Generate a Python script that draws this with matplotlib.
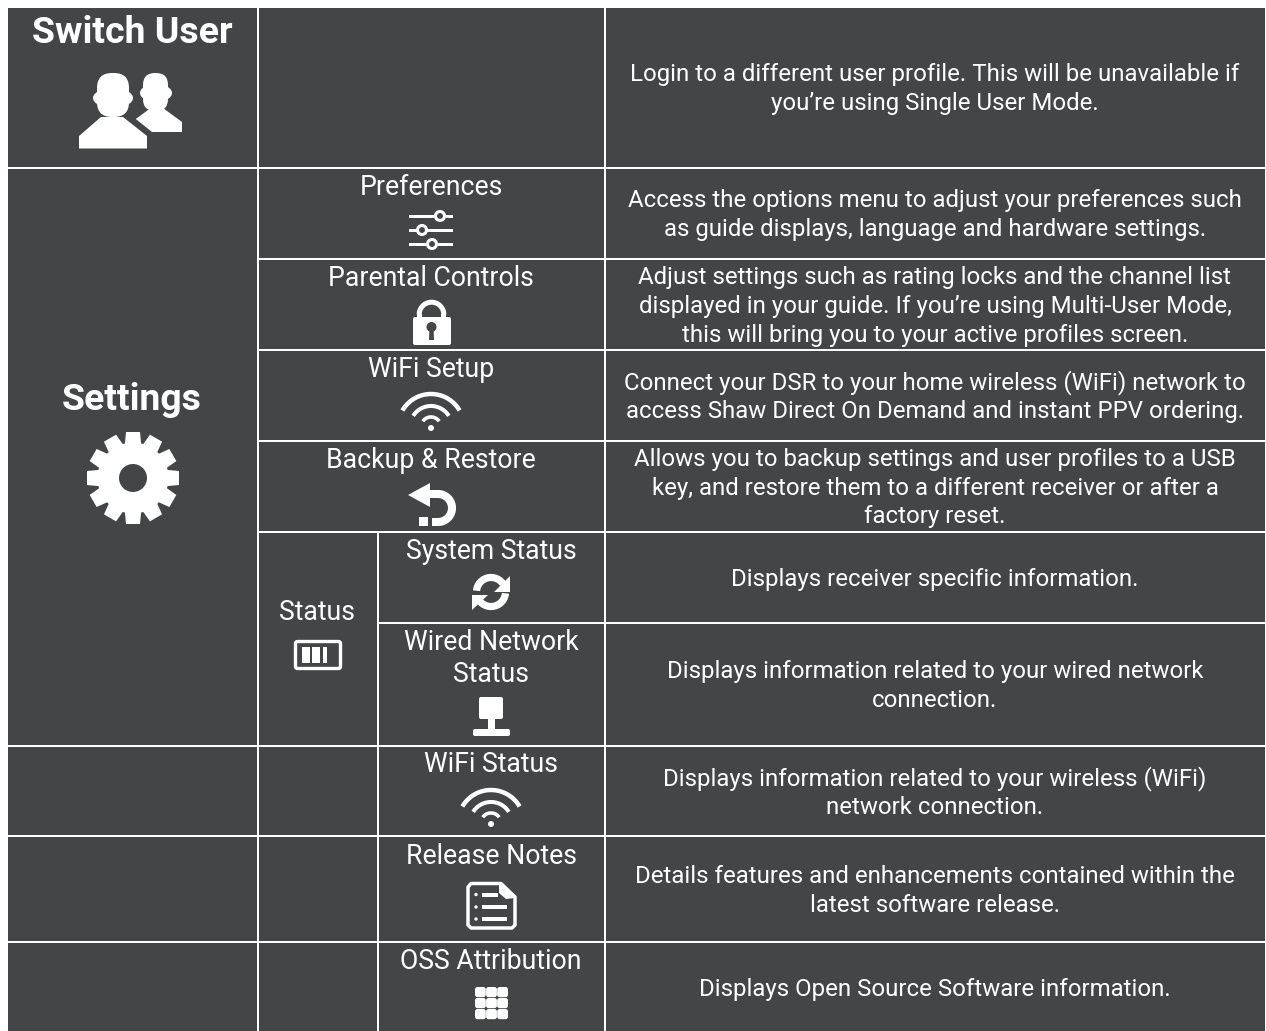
import numpy as np
import matplotlib
matplotlib.use("Agg")
import matplotlib.pyplot as plt
from matplotlib.patches import Rectangle, Ellipse, Polygon, Circle, FancyBboxPatch

BG = "#444547"
WHITE = "#ffffff"

# table rules: (position, start, end)
h_rules = [(168, 8, 1265), (259, 258, 1265), (350, 258, 1265), (441, 258, 1265), (532, 258, 1265),
           (623, 378, 1265), (745.5, 8, 1265), (836, 8, 1265), (941.5, 8, 1265)]
v_rules = [(258, 8, 1031), (605, 8, 1031), (378, 532, 1031)]

# bold section names
section_names = ["Switch User", "Settings"]
section_pos = [(132, 30), (132, 397)]

# menu items
item_names = ["Preferences", "Parental Controls", "WiFi Setup", "Backup & Restore", "Status", "System Status",
              "Wired Network", "Status", "WiFi Status", "Release Notes", "OSS Attribution"]
item_pos = [(431, 185), (431, 276), (431, 367), (431, 458), (317, 610), (491, 549),
            (491, 640), (491, 672), (491, 762), (491, 854), (491, 959)]

# descriptions, one entry per line of text
desc_lines = ["Login to a different user profile. This will be unavailable if",
              "you\u2019re using Single User Mode.",
              "Access the options menu to adjust your preferences such",
              "as guide displays, language and hardware settings.",
              "Adjust settings such as rating locks and the channel list",
              "displayed in your guide. If you\u2019re using Multi-User Mode,",
              "this will bring you to your active profiles screen.",
              "Connect your DSR to your home wireless (WiFi) network to",
              "access Shaw Direct On Demand and instant PPV ordering.",
              "Allows you to backup settings and user profiles to a USB",
              "key, and restore them to a different receiver or after a",
              "factory reset.",
              "Displays receiver specific information.",
              "Displays information related to your wired network",
              "connection.",
              "Displays information related to your wireless (WiFi)",
              "network connection.",
              "Details features and enhancements contained within the",
              "latest software release.",
              "Displays Open Source Software information."]
desc_y = [73, 102, 199, 228, 276, 305, 334, 381, 410, 458, 487, 515, 578, 670, 699, 777, 806, 875, 904, 988]

plt.rcParams["font.family"] = ["Roboto", "DejaVu Sans"]

fig = plt.figure(figsize=(12.66, 10.31), dpi=100)
ax = fig.add_axes([0, 0, 1, 1])
ax.set_xlim(0, 1266)
ax.set_ylim(1031, 0)
ax.axis("off")

ax.add_patch(Rectangle((8, 8), 1257, 1023, fc=BG, ec="none"))
for y, x0, x1 in h_rules:
    ax.add_patch(Rectangle((x0, y - 1), x1 - x0, 2, fc=WHITE, ec="none"))
for x, y0, y1 in v_rules:
    ax.add_patch(Rectangle((x - 1, y0), 2, y1 - y0, fc=WHITE, ec="none"))

for name, (x, y) in zip(section_names, section_pos):
    ax.text(x, y + 12.6, name, color=WHITE, fontsize=26.9, fontweight="bold", ha="center", va="baseline")
for name, (x, y) in zip(item_names, item_pos):
    ax.text(x, y + 9.6, name, color=WHITE, fontsize=19.15, ha="center", va="baseline")
for line, y in zip(desc_lines, desc_y):
    ax.text(935, y + 8, line, color=WHITE, fontsize=17.25, ha="center", va="baseline")


def poly(pts, fc=WHITE):
    ax.add_patch(Polygon(pts, closed=True, fc=fc, ec="none"))


def rbox(x, y, w, h, r, fc=WHITE, ec="none", lw=0):
    ax.add_patch(FancyBboxPatch((x + r, y + r), w - 2 * r, h - 2 * r, boxstyle="round,pad=%g,rounding_size=%g" % (r, r),
                                fc=fc, ec=ec, lw=lw))


def arc(cx, cy, r, a0, a1, lw, cap="butt"):
    # angles measured clockwise on screen, 0 = right
    t = np.radians(np.linspace(a0, a1, 60))
    ax.plot(cx + r * np.cos(t), cy + r * np.sin(t), color=WHITE, lw=lw, solid_capstyle=cap)


def wifi(cx, cy):
    arc(cx, cy - 1, 33, 210, 330, 3.2)
    arc(cx, cy - 1, 21, 212, 328, 2.9)
    arc(cx, cy - 1, 10, 215, 325, 2.6)
    ax.add_patch(Circle((cx, cy), 3, fc=WHITE, ec="none"))


# users, small one first
rbox(143, 73, 25, 38, 12)
ax.add_patch(Ellipse((156, 93), 32, 18, fc=WHITE, ec="none"))
poly([(133, 121), (148, 110), (163, 108), (182, 122), (182, 132), (150, 132)])
poly([(74, 150), (74, 134), (99, 114), (90, 90), (100, 70), (127, 70), (136, 90), (127, 112), (152, 132), (152, 150)], fc=BG)
rbox(97, 73, 32, 44, 15)
ax.add_patch(Ellipse((113, 98), 40, 20, fc=WHITE, ec="none"))
poly([(79, 148.5), (79, 136), (101, 117), (123, 117), (147, 136), (147, 148.5)])

# gear
ax.add_patch(Circle((133, 478), 35.5, fc=WHITE, ec="none"))
for a in np.arange(0, 360, 30):
    t = np.radians(a)
    d = np.array([np.cos(t), np.sin(t)])
    n = np.array([-d[1], d[0]])
    c = np.array([133, 478])
    poly([c + 30 * d + 8.5 * n, c + 46 * d + 7 * n, c + 46 * d - 7 * n, c + 30 * d - 8.5 * n])
ax.add_patch(Circle((133, 478), 14, fc=BG, ec="none"))

# preferences sliders
for y, kx in zip([216, 230, 244], [440, 422, 432]):
    ax.add_patch(Rectangle((409, y - 1.5), 44, 3, fc=WHITE, ec="none"))
    ax.add_patch(Circle((kx, y), 4.5, fc=BG, ec=WHITE, lw=2.2))

# lock
arc(431.5, 314.5, 12.3, 180, 360, 3.6)
ax.add_patch(Rectangle((417, 314), 5, 6, fc=WHITE, ec="none"))
ax.add_patch(Rectangle((441, 314), 5, 6, fc=WHITE, ec="none"))
rbox(413, 317, 38, 28, 2)
ax.add_patch(Circle((431.5, 327), 5, fc=BG, ec="none"))
poly([(429.5, 328), (433.5, 328), (434, 340), (429, 340)], fc=BG)

wifi(431, 428)

# backup arrow
poly([(408, 495), (430, 483), (430, 507)])
arc(438, 508, 14, -90, 90, 5.8)
ax.add_patch(Rectangle((428, 489.5), 11, 8, fc=WHITE, ec="none"))
ax.add_patch(Rectangle((432, 518), 6, 8, fc=WHITE, ec="none"))
ax.add_patch(Rectangle((419, 517), 9, 8.5, fc=WHITE, ec="none"))

# status battery
rbox(295.5, 641.5, 45, 27, 2, fc="none", ec=WHITE, lw=2.4)
for x, w in zip([302, 312, 323], [7.5, 8, 4]):
    ax.add_patch(Rectangle((x, 647), w, 16, fc=WHITE, ec="none"))

# sync
arc(491, 592, 14.5, 185, 325, 5.2)
arc(491, 592, 14.5, 5, 145, 5.2)
poly([(510, 576), (510, 591.5), (494, 591.5)])
poly([(472, 610), (472, 594.5), (488, 594.5)])

# wired network
rbox(479, 697, 24, 22, 2)
ax.add_patch(Rectangle((488, 719), 7, 10, fc=WHITE, ec="none"))
rbox(473, 729, 37, 7, 2)

wifi(491, 824)

# release notes
doc_pts = [(471, 883.5), (501, 883.5), (515, 897), (515, 925), (512, 928), (471, 928), (468, 925), (468, 887)]
ax.add_patch(Polygon(doc_pts, closed=True, fc="none", ec=WHITE, lw=2.5, joinstyle="round"))
poly([(499, 884), (515, 898), (506, 899), (499, 893)])
for y, x1 in zip([894.5, 907, 919], [498, 507, 507]):
    ax.add_patch(Rectangle((482, y - 2), x1 - 482, 4, fc=WHITE, ec="none"))
    ax.add_patch(Circle((476, y), 1.7, fc=WHITE, ec="none"))

# OSS grid
for i in range(3):
    for j in range(3):
        rbox(475 + 11.1 * i, 987 + 11 * j, 10.8, 10.2, 2.5)

fig.savefig("out.png", dpi=100, facecolor="white")
